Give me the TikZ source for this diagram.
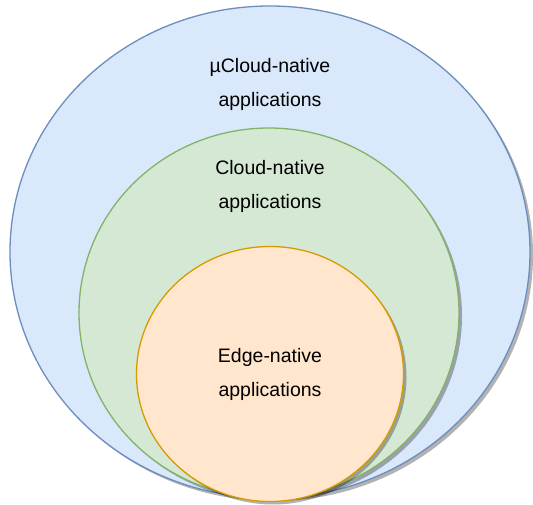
\documentclass[tikz,border=0pt]{standalone}
\usepackage{fontspec}
\setmainfont{Liberation Sans}
\usetikzlibrary{shapes,positioning,shadows}
\definecolor{microFill}{HTML}{DAE8FC}
\definecolor{microLine}{HTML}{6C8EBF}
\definecolor{cloudFill}{HTML}{D5E8D4}
\definecolor{cloudLine}{HTML}{82B366}
\definecolor{edgeFill}{HTML}{FFE6CC}
\definecolor{edgeLine}{HTML}{D79B00}

\begin{document}
\begin{tikzpicture}
            [
            x=1pt, y=-1pt,
            set/.style={ellipse, draw, line width=1.3pt, inner sep=0pt,
                drop shadow={shadow xshift=3pt, shadow yshift=-3pt,
                    fill=black, opacity=0.3}},
            tag/.style={align=center, font=\fontsize{19.5}{34}\selectfont}
            ]
            \useasboundingbox (0,0) rectangle (533,505);

            \node (micro) [set, fill=microFill, draw=microLine,
                minimum width=520pt, minimum height=492pt] at (270,252) {};
            \node (cloud) [set, fill=cloudFill, draw=cloudLine,
                minimum width=380pt, minimum height=370pt] at (269,313) {};
            \node (edge) [set, fill=edgeFill, draw=edgeLine,
                minimum width=267pt, minimum height=255pt] at (270,374) {};

            % Labels
            \node (microTxt) [tag] at (270,84) {µCloud-native\\applications};
            \node (cloudTxt) [tag] at (270,186) {Cloud-native\\applications};
            \node (edgeTxt) [tag] at (270,374) {Edge-native\\applications};

        \end{tikzpicture}
\end{document}
